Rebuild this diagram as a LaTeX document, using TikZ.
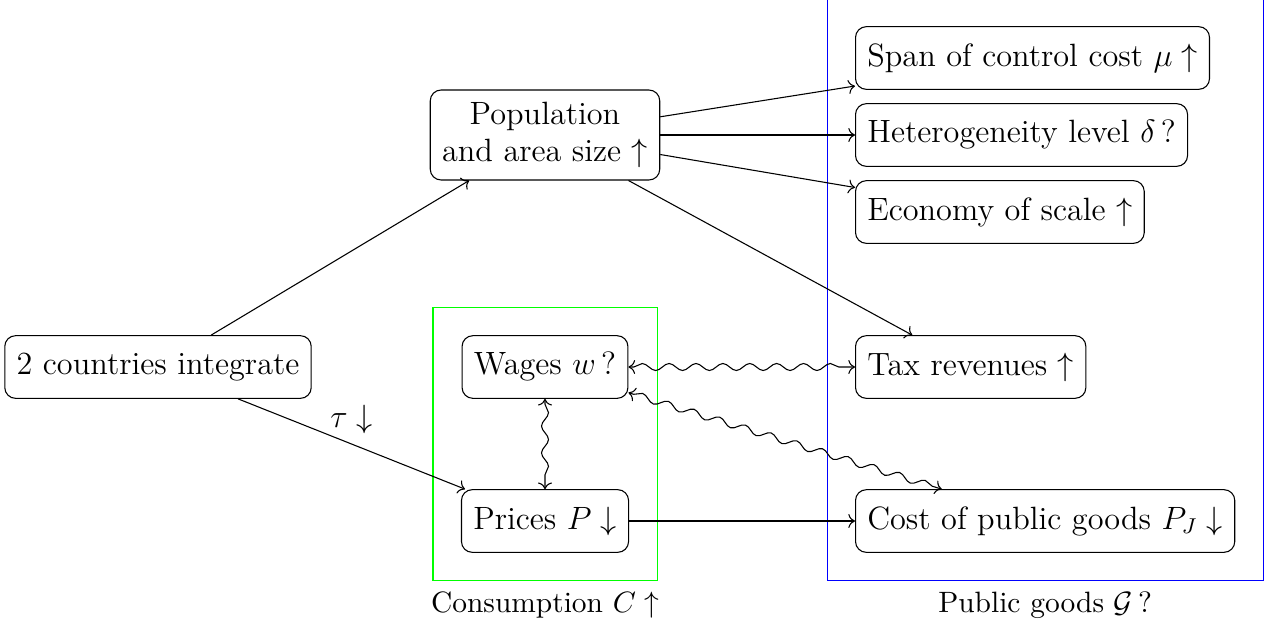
\documentclass[11pt,tikz,border=0pt]{standalone}
\usepackage{amsmath,amssymb}
\usetikzlibrary{arrows.meta,positioning,decorations.pathmorphing,fit}
\tikzset{
  factbox/.style={draw, rounded corners=4pt, align=center, font=\large,
    inner sep=4.4pt, minimum height=23.3pt},
  groupbox/.style={draw, inner sep=10.4pt},
  arr/.style={-{To}},
  wavyarr/.style={{To}-{To}, decorate,
    decoration={snake, amplitude=1.3pt, segment length=10pt,
      pre length=2pt, post length=2pt}}
}
\begin{document}
\begin{tikzpicture}[x=0.372pt,y=-0.372pt]
  \useasboundingbox (0,0) rectangle (1272,628);
  \node[factbox] (integrate) at (158,367) {2 countries integrate};
  \node[factbox] (popsize) at (545,135) {Population\\and area size $\uparrow$};
  \node[factbox, anchor=west] (span) at (855,58) {Span of control cost $\mu\uparrow$};
  \node[factbox, anchor=west] (hetero) at (855,135) {Heterogeneity level $\delta\,?$};
  \node[factbox, anchor=west] (scale) at (855,212) {Economy of scale $\uparrow$};
  \node[factbox, anchor=west] (tax) at (855,367) {Tax revenues $\uparrow$};
  \node[factbox, anchor=west] (pubcost) at (855,521) {Cost of public goods $P_J\downarrow$};
  \node[factbox] (wages) at (545,367) {Wages $w\,?$};
  \node[factbox] (prices) at (545,521) {Prices $P\downarrow$};

  % groups
  \node[groupbox, draw=green, fit=(wages)(prices),
    label=below:{Consumption $C\uparrow$}] (consum) {};
  \node[groupbox, draw=blue, fit=(span)(hetero)(scale)(tax)(pubcost),
    label=below:{Public goods $\mathcal{G}\,?$}] (pubgoods) {};

  \draw[arr] (integrate) -- (popsize);
  \draw[arr] (integrate) -- node[above, font=\large] {$\tau\downarrow$} (prices);
  \draw[arr] (popsize) -- (span);
  \draw[arr] (popsize) -- (hetero);
  \draw[arr] (popsize) -- (scale);
  \draw[arr] (popsize) -- (tax);
  \draw[arr] (prices) -- (pubcost);

  \draw[wavyarr] (wages) -- (tax);
  \draw[wavyarr] (wages) -- (prices);
  \draw[wavyarr] (wages) -- (pubcost);
\end{tikzpicture}
\end{document}
